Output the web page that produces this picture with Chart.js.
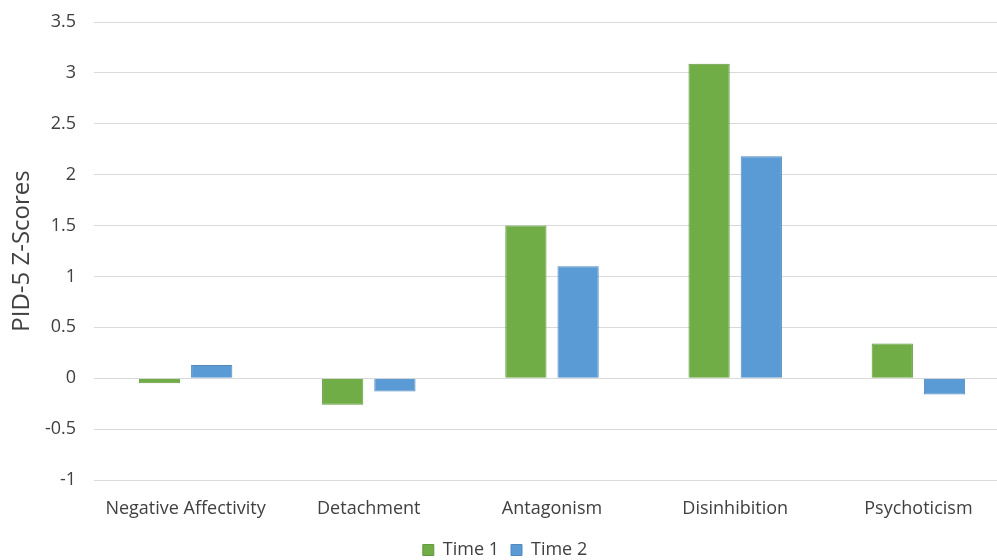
<!DOCTYPE html>
<html>
<head>
<meta charset="utf-8">
<script src="https://cdn.jsdelivr.net/npm/chart.js@4"></script>
<style>
  html, body { margin: 0; padding: 0; background: #fff; overflow: hidden; }
  #wrap { width: 1012px; height: 569px; }
</style>
</head>
<body>
<div id="wrap"><canvas id="chart"></canvas></div>
<script>
  // data
  const categories = ["Negative Affectivity", "Detachment", "Antagonism", "Disinhibition", "Psychoticism"];
  const time1 = [-0.05, -0.26, 1.5, 3.09, 0.34];
  const time2 = [0.13, -0.13, 1.1, 2.18, -0.16];
  const yTicks = [-1, -0.5, 0, 0.5, 1, 1.5, 2, 2.5, 3, 3.5];

  const labelFont = { family: "Open Sans", size: 18 };
  const textColor = "#404040";

  new Chart(document.getElementById("chart").getContext("2d"), {
    type: "bar",
    data: {
      labels: categories,
      datasets: [
        { label: "Time 1", data: time1, backgroundColor: "#70AD47", borderColor: "#64993f", borderWidth: 1 },
        { label: "Time 2", data: time2, backgroundColor: "#5B9BD5", borderColor: "#5189bd", borderWidth: 1 },
      ],
    },
    options: {
      responsive: true,
      maintainAspectRatio: false,
      animation: false,
      layout: { padding: { top: 22, right: 2, left: 0, bottom: 0 } },
      datasets: { bar: { categoryPercentage: 0.57, barPercentage: 0.79 } },
      plugins: {
        legend: {
          position: "bottom",
          labels: { boxWidth: 11, boxHeight: 11, color: textColor, font: labelFont, padding: 12 },
        },
        tooltip: { enabled: false },
      },
      scales: {
        x: {
          grid: { display: false },
          border: { display: false },
          afterFit: (axis) => { axis.height = 49; },
          ticks: { color: textColor, font: labelFont, maxRotation: 0, padding: 10 },
        },
        y: {
          min: -1,
          max: 3.5,
          afterBuildTicks: (axis) => { axis.ticks = yTicks.map((v) => ({ value: v })); },
          afterFit: (axis) => { axis.width = 94; axis.paddingTop = 0; },
          grid: { color: "#d9d9d9", drawTicks: false },
          border: { display: false },
          ticks: { color: textColor, font: labelFont, padding: 18, callback: (v) => String(v) },
          title: { display: true, text: "PID-5 Z-Scores", color: textColor, font: { family: "Open Sans", size: 24 }, padding: { top: 8, bottom: 0 } },
        },
      },
    },
  });
</script>
</body>
</html>
